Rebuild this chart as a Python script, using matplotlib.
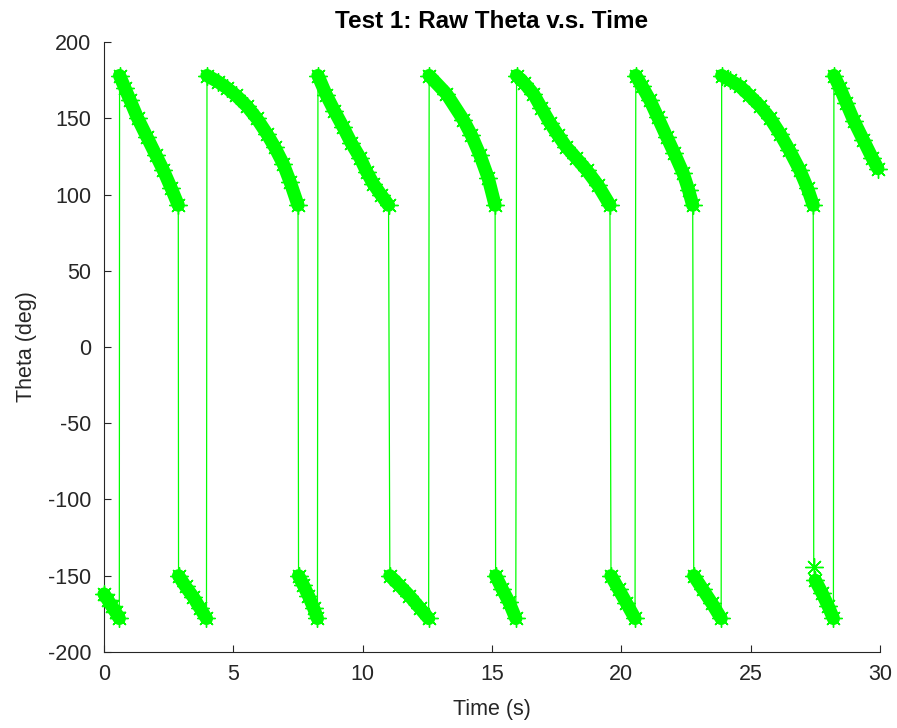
import numpy as np
import matplotlib
matplotlib.use('Agg')
import matplotlib.pyplot as plt

plt.rcParams['axes.unicode_minus'] = False
plt.rcParams['font.family'] = ['Liberation Sans', 'DejaVu Sans']

# raw theta readings, one list per wrap segment
seg_t = [
    [0.0, 0.15, 0.30, 0.45, 0.59],
    [0.60, 0.80, 1.0, 1.3, 1.65, 2.0, 2.29, 2.6, 2.87],
    [2.88, 3.15, 3.45, 3.70, 3.96],
    [3.98, 4.4, 4.74, 5.1, 5.52, 5.9, 6.29, 6.6, 6.93, 7.2, 7.5],
    [7.52, 7.70, 7.90, 8.10, 8.25],
    [8.27, 8.6, 8.9, 9.25, 9.55, 9.9, 10.15, 10.41, 10.7, 11.0],
    [11.05, 11.4, 11.8, 12.2, 12.55],
    [12.57, 13.24, 13.89, 14.2, 14.53, 14.85, 15.12],
    [15.14, 15.4, 15.65, 15.92],
    [15.95, 16.25, 16.6, 16.9, 17.24, 17.55, 17.88, 18.25, 18.66, 19.1, 19.56],
    [19.6, 19.9, 20.2, 20.53],
    [20.56, 20.8, 21.1, 21.4, 21.75, 22.05, 22.39, 22.6, 22.76],
    [22.8, 23.15, 23.5, 23.86],
    [23.88, 24.2, 24.58, 24.95, 25.36, 25.75, 26.13, 26.5, 26.9, 27.2, 27.42],
    [27.44],
    [27.5, 27.75, 28.0, 28.2],
    [28.22, 28.45, 28.7, 29.0, 29.35, 29.7, 29.92],
]
seg_theta = [
    [-162, -166, -170, -174, -178],
    [178, 170, 162, 150, 138, 126, 116, 104, 93],
    [-150, -157, -164, -171, -178],
    [178, 174, 170, 165, 158, 150, 140, 131, 120, 108, 93],
    [-150, -156, -163, -171, -178],
    [178, 165, 155, 144, 134, 124, 115, 107, 100, 93],
    [-150, -156, -163, -171, -178],
    [178, 166, 149, 139, 126, 111, 93],
    [-150, -159, -167, -178],
    [178, 173, 166, 157, 147, 139, 131, 124, 116, 106, 93],
    [-150, -159, -168, -178],
    [178, 171, 162, 151, 138, 127, 114, 103, 93],
    [-150, -159, -168, -178],
    [178, 175, 171, 165, 158, 150, 140, 129, 116, 104, 93],
    [-144],
    [-153, -161, -170, -178],
    [178, 170, 160, 148, 136, 124, 117],
]

xticks = [0, 5, 10, 15, 20, 25, 30]
yticks = [-200, -150, -100, -50, 0, 50, 100, 150, 200]

green = '#00ff00'
dark = '#262626'
asterisk = (8, 2, 0)   # 8-arm asterisk like matlab '*'

fig = plt.figure(figsize=(8.97, 7.28), dpi=100)
ax = fig.add_axes([0.116, 0.1044, 0.865, 0.8379])

t_all = np.concatenate([np.array(s) for s in seg_t])
th_all = np.concatenate([np.array(s) for s in seg_theta])

# thin connecting line, includes the wrap jumps
ax.plot(t_all, th_all, '-', color=green, lw=0.9, clip_on=False, zorder=2)

# dense '*' markers show up as a thick strip
for st, sth in zip(seg_t, seg_theta):
    ax.plot(st, sth, '-', color=green, lw=9.5, solid_capstyle='round',
            clip_on=False, zorder=3)
    ax.plot(st, sth, ls='none', marker=asterisk, color=green, ms=13, mew=1.0,
            clip_on=False, zorder=4)

ax.set_xlim(0, 30)
ax.set_ylim(-200, 200)
ax.set_xticks(xticks)
ax.set_yticks(yticks)

for side in ['top', 'right']:
    ax.spines[side].set_visible(False)
for side in ['left', 'bottom']:
    ax.spines[side].set_color(dark)
    ax.spines[side].set_linewidth(0.8)

ax.tick_params(direction='in', length=5, width=0.8, colors=dark,
               labelsize=15.5, pad=9)

ax.set_title('Test 1: Raw Theta v.s. Time', fontsize=17.5, fontweight='bold',
             color='black', pad=10)
ax.set_xlabel('Time (s)', fontsize=15.5, color=dark, labelpad=10)
ax.set_ylabel('Theta (deg)', fontsize=15.5, color=dark, labelpad=8)

fig.savefig('out.png', dpi=100)
